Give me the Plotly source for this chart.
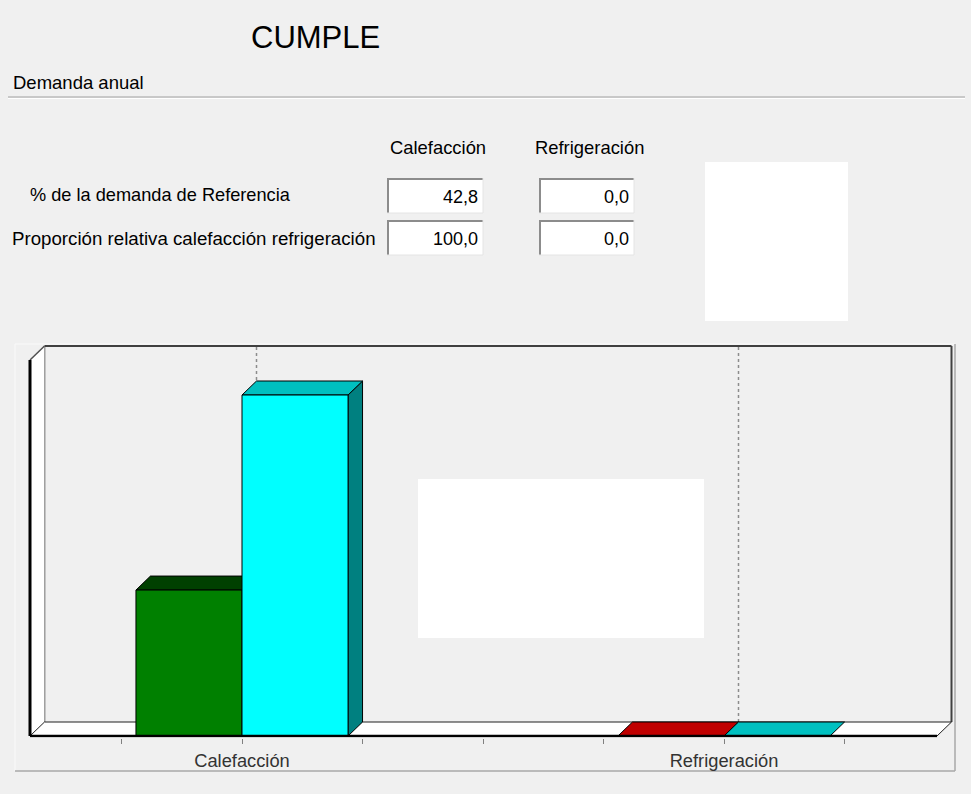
import plotly.graph_objects as go

# ---------------- data ----------------
categorias = ["Calefacción", "Refrigeración"]
cat_pos = [0, 1]
edificio = [42.8, 0.0]          # demanda del edificio objeto (% de la de referencia)
referencia = [100.0, 0.0]       # demanda del edificio de referencia
pct_demanda_ref = [42.8, 0.0]
proporcion_relativa = [100.0, 0.0]
fila_labels = ["% de la demanda de Referencia",
               "Proporción relativa calefacción refrigeración"]
titulo = "CUMPLE"
seccion = "Demanda anual"
tick_vals = [-0.25, 0, 0.25, 0.5, 0.75, 1.0, 1.25]
tick_text = ["", categorias[0], "", "", "", categorias[1], ""]

# ---------------- layout constants ----------------
W, H = 971, 794
FONT = "Liberation Sans, Arial, sans-serif"
BG = "#f0f0f0"

CAT_PX = 482.0      # px per category unit
X0_PX = 242.0       # px of category 0
VAL_PX = 3.41       # px per value unit
Y0_PX = 736.0       # px of value 0

def fx(p):
    return p / W

def fy(p):
    return 1 - p / H

def ux(p):   # px -> x data
    return (p - X0_PX) / CAT_PX

def vy(p):   # px -> y data
    return (Y0_PX - p) / VAL_PX

DX = 14.5 / CAT_PX
DY = 14.0 / VAL_PX
FL = ux(30)
FR = ux(937)
TOP = vy(360)
BW = 0.22

edif_front = ["#008000", "#ff0000"]
edif_top = ["#004000", "#c00000"]
edif_side = ["#004000", "#800000"]
ref_front = "#00ffff"
ref_top = "#00c0c0"
ref_side = "#008080"

shapes = []
annotations = []

def poly(pts, fill, line_color="black", width=1, layer="below", dash=None):
    d = "M " + " L ".join(f"{x},{y}" for x, y in pts) + " Z"
    ln = dict(color=line_color, width=width)
    if dash:
        ln["dash"] = dash
    return dict(type="path", xref="x", yref="y", path=d, fillcolor=fill,
                line=ln, layer=layer)

def dline(x0, y0, x1, y1, color, width, layer="below", dash=None):
    ln = dict(color=color, width=width)
    if dash:
        ln["dash"] = dash
    return dict(type="line", xref="x", yref="y", x0=x0, y0=y0, x1=x1, y1=y1,
                line=ln, layer=layer)

def pline(x0, y0, x1, y1, color, width=1, layer="below"):
    return dict(type="line", xref="paper", yref="paper", x0=fx(x0), y0=fy(y0),
                x1=fx(x1), y1=fy(y1), line=dict(color=color, width=width), layer=layer)

def prect(x0, y0, x1, y1, fill, layer="below", line_color=None, width=0):
    return dict(type="rect", xref="paper", yref="paper", x0=fx(x0), y0=fy(y0),
                x1=fx(x1), y1=fy(y1), fillcolor=fill,
                line=dict(color=line_color or fill, width=width), layer=layer)

# ---------- dialog decorations ----------
shapes.append(pline(8, 97, 965, 97, "#a0a0a0", 1))
shapes.append(pline(8, 98.5, 965, 98.5, "#ffffff", 1))

# chart panel
shapes.append(pline(15, 344, 955, 344, "#fafafa", 1))
shapes.append(pline(15, 344, 15, 771, "#fafafa", 1))
shapes.append(pline(15, 771, 955, 771, "#a8a8a8", 1.5))
shapes.append(pline(955, 344, 955, 771, "#a8a8a8", 1.5))

# text boxes
box_cols = [(387, 483), (539, 634)]
box_rows = [(178, 213), (220, 255)]
valores = [pct_demanda_ref, proporcion_relativa]
for r, (y0, y1) in enumerate(box_rows):
    for c, (x0, x1) in enumerate(box_cols):
        shapes.append(prect(x0, y0, x1, y1, "#ffffff"))
        shapes.append(pline(x0, y0 + 1, x1, y0 + 1, "#8c8c8c", 2))
        shapes.append(pline(x0 + 1, y0, x0 + 1, y1, "#8c8c8c", 2))
        shapes.append(pline(x0, y1, x1, y1, "#e4e4e4", 1))
        shapes.append(pline(x1, y0, x1, y1, "#e4e4e4", 1))
        txt = f"{valores[r][c]:.1f}".replace(".", ",")
        annotations.append(dict(x=fx(x1 - 3), y=fy((y0 + y1) / 2 + 1), xref="paper",
                                yref="paper", text=txt, showarrow=False,
                                xanchor="right", yanchor="middle",
                                font=dict(family=FONT, size=18, color="#000000")))

# ---------- 3D chart frame ----------
# back wall
shapes.append(dline(FL + DX, TOP + DY, FR + DX, TOP + DY, "#404040", 2))
shapes.append(dline(FR + DX, DY, FR + DX, TOP + DY, "#404040", 2))
shapes.append(dline(FL + DX, DY, FL + DX, TOP + DY, "#404040", 1.5))
# gridlines at category back centers
for c in cat_pos:
    shapes.append(dline(c + DX, DY, c + DX, TOP + DY, "#8c8c8c", 1.5, dash="dot"))
# left wall
shapes.append(poly([(FL, 0), (FL, TOP), (FL + DX, TOP + DY), (FL + DX, DY)],
                   "#ffffff", line_color="rgba(0,0,0,0)", width=0))
shapes.append(dline(FL, TOP, FL + DX, TOP + DY, "#505050", 1.5))
# floor
shapes.append(poly([(FL, 0), (FR, 0), (FR + DX, DY), (FL + DX, DY)],
                   "#ffffff", line_color="#202020", width=1))

# bar top / side faces computed from the data
for i, c in enumerate(cat_pos):
    # edificio bar: [c-BW, c]
    x0, x1, v = c - BW, c, edificio[i]
    if v > 0:
        shapes.append(poly([(x1, 0), (x1, v), (x1 + DX, v + DY), (x1 + DX, DY)],
                           edif_side[i]))
    shapes.append(poly([(x0, v), (x1, v), (x1 + DX, v + DY), (x0 + DX, v + DY)],
                       edif_top[i]))
    # referencia bar: [c, c+BW]
    x0, x1, v = c, c + BW, referencia[i]
    if v > 0:
        shapes.append(poly([(x1, 0), (x1, v), (x1 + DX, v + DY), (x1 + DX, DY)],
                           ref_side))
    shapes.append(poly([(x0, v), (x1, v), (x1 + DX, v + DY), (x0 + DX, v + DY)],
                       ref_top))

# thick front edges
shapes.append(dline(FL, 0, FR, 0, "#000000", 2.5, layer="above"))
shapes.append(dline(FL, 0, FL, TOP, "#000000", 3, layer="above"))

# white blank boxes present in the original
shapes.append(prect(705, 162, 848, 321, "#ffffff", layer="above"))
shapes.append(prect(418, 479, 704, 638, "#ffffff", layer="above"))

# ---------- texts ----------
TXT = 18.4
annotations.append(dict(x=fx(315), y=fy(37), xref="paper", yref="paper",
                        text=titulo, showarrow=False, xanchor="center", yanchor="middle",
                        font=dict(family=FONT, size=31, color="#000000")))
annotations.append(dict(x=fx(11), y=fy(82), xref="paper", yref="paper",
                        text=seccion, showarrow=False, xanchor="left", yanchor="middle",
                        font=dict(family=FONT, size=18.5, color="#000000")))
for c, (x0, x1) in enumerate(box_cols):
    cx = [438, 589][c]
    annotations.append(dict(x=fx(cx), y=fy(147), xref="paper", yref="paper",
                            text=categorias[c], showarrow=False, xanchor="center",
                            yanchor="middle",
                            font=dict(family=FONT, size=TXT, color="#000000")))
annotations.append(dict(x=fx(28), y=fy(195), xref="paper", yref="paper",
                        text=fila_labels[0], showarrow=False, xanchor="left",
                        yanchor="middle", font=dict(family=FONT, size=18.2, color="#000000")))
annotations.append(dict(x=fx(10), y=fy(238), xref="paper", yref="paper",
                        text=fila_labels[1], showarrow=False, xanchor="left",
                        yanchor="middle", font=dict(family=FONT, size=TXT + 0.3,
                                                    color="#000000")))

# ---------- traces ----------
fig = go.Figure()
fig.add_trace(go.Bar(x=cat_pos, y=edificio, width=BW, offset=-BW,
                     marker=dict(color=edif_front, line=dict(color="#000000", width=1)),
                     name="Edificio objeto", hoverinfo="skip"))
fig.add_trace(go.Bar(x=cat_pos, y=referencia, width=BW, offset=0,
                     marker=dict(color=ref_front, line=dict(color="#000000", width=1)),
                     name="Edificio de referencia", hoverinfo="skip"))

fig.update_layout(
    width=W, height=H, margin=dict(l=0, r=0, t=0, b=0, pad=0),
    paper_bgcolor=BG, plot_bgcolor="rgba(0,0,0,0)",
    showlegend=False, barmode="overlay",
    shapes=shapes, annotations=annotations,
    xaxis=dict(domain=[fx(20), fx(960)], range=[ux(20), ux(960)],
               tickmode="array", tickvals=tick_vals, ticktext=tick_text,
               ticks="outside", ticklen=5, tickcolor="#808080", tickwidth=1,
               showgrid=False, zeroline=False, showline=False, fixedrange=True,
               ticklabelstandoff=2,
               tickfont=dict(family=FONT, size=18.3, color="#333333")),
    yaxis=dict(domain=[fy(737.5), fy(338)], range=[vy(737.5), vy(338)],
               visible=False, showgrid=False, zeroline=False, fixedrange=True),
)

fig.write_html("out.html", config={"displayModeBar": False})
